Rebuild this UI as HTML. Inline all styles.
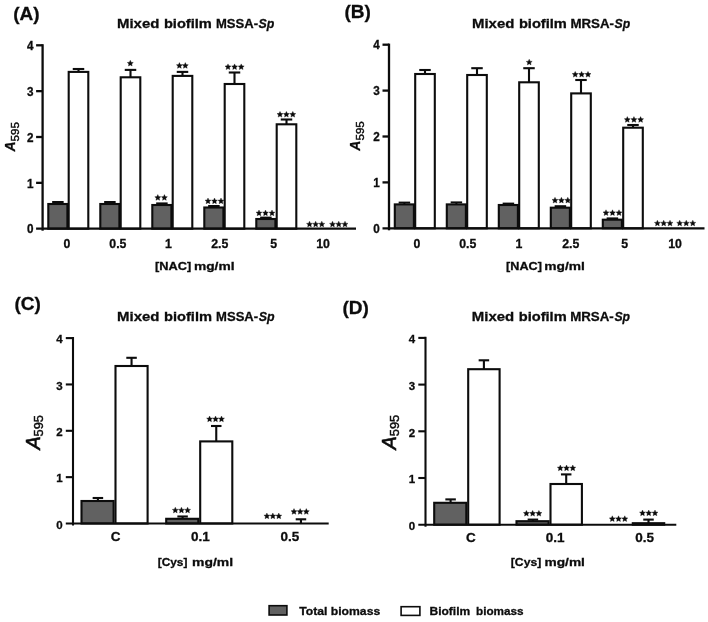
<!DOCTYPE html>
<html><head><meta charset="utf-8"><title>Mixed biofilm figure</title>
<style>html,body{margin:0;padding:0;background:#fff;}svg{display:block;filter:blur(0.35px);}text{font-family:"Liberation Sans",sans-serif;}</style></head>
<body>
<svg width="708" height="622" viewBox="0 0 708 622" font-family="'Liberation Sans', sans-serif" fill="#0c0c0c">
<rect x="0" y="0" width="708" height="622" fill="#ffffff" stroke="none"/>
<text x="13.30" y="20.00" font-size="19" font-weight="bold" font-style="normal" text-anchor="start" stroke="#0c0c0c" stroke-width="0.3">(A)</text>
<text x="117.00" y="28.00" font-size="13.4" font-weight="bold" font-style="normal" text-anchor="start" textLength="42.30" lengthAdjust="spacingAndGlyphs" stroke="#0c0c0c" stroke-width="0.3">Mixed</text>
<text x="163.90" y="28.00" font-size="13.4" font-weight="bold" font-style="normal" text-anchor="start" textLength="48.00" lengthAdjust="spacingAndGlyphs" stroke="#0c0c0c" stroke-width="0.3">biofilm</text>
<text x="216.00" y="28.00" font-size="13.4" font-weight="bold" font-style="normal" text-anchor="start" textLength="42.00" lengthAdjust="spacingAndGlyphs" stroke="#0c0c0c" stroke-width="0.3">MSSA-</text>
<text x="258.60" y="28.00" font-size="13.4" font-weight="bold" font-style="italic" text-anchor="start" textLength="15.80" lengthAdjust="spacingAndGlyphs" stroke="#0c0c0c" stroke-width="0.3">Sp</text>
<line x1="57.90" y1="202.00" x2="57.90" y2="204.00" stroke="#0c0c0c" stroke-width="2.0" stroke-linecap="butt"/>
<line x1="52.15" y1="202.00" x2="63.65" y2="202.00" stroke="#0c0c0c" stroke-width="2.0" stroke-linecap="butt"/>
<rect x="48.30" y="204.00" width="19.10" height="24.70" fill="#616161" stroke="#0c0c0c" stroke-width="2.1"/>
<line x1="78.50" y1="69.00" x2="78.50" y2="71.90" stroke="#0c0c0c" stroke-width="2.1" stroke-linecap="butt"/>
<line x1="72.75" y1="69.00" x2="84.25" y2="69.00" stroke="#0c0c0c" stroke-width="2.1" stroke-linecap="butt"/>
<rect x="68.70" y="71.90" width="19.60" height="156.80" fill="#fff" stroke="#0c0c0c" stroke-width="2.1"/>
<line x1="109.90" y1="202.00" x2="109.90" y2="204.00" stroke="#0c0c0c" stroke-width="2.0" stroke-linecap="butt"/>
<line x1="104.15" y1="202.00" x2="115.65" y2="202.00" stroke="#0c0c0c" stroke-width="2.0" stroke-linecap="butt"/>
<rect x="100.30" y="204.00" width="19.10" height="24.70" fill="#616161" stroke="#0c0c0c" stroke-width="2.1"/>
<line x1="130.50" y1="69.90" x2="130.50" y2="77.30" stroke="#0c0c0c" stroke-width="2.1" stroke-linecap="butt"/>
<line x1="124.75" y1="69.90" x2="136.25" y2="69.90" stroke="#0c0c0c" stroke-width="2.1" stroke-linecap="butt"/>
<rect x="120.70" y="77.30" width="19.60" height="151.40" fill="#fff" stroke="#0c0c0c" stroke-width="2.1"/>
<line x1="161.90" y1="203.40" x2="161.90" y2="205.00" stroke="#0c0c0c" stroke-width="2.0" stroke-linecap="butt"/>
<line x1="156.15" y1="203.40" x2="167.65" y2="203.40" stroke="#0c0c0c" stroke-width="2.0" stroke-linecap="butt"/>
<rect x="152.30" y="205.00" width="19.10" height="23.70" fill="#616161" stroke="#0c0c0c" stroke-width="2.1"/>
<line x1="182.50" y1="71.90" x2="182.50" y2="75.90" stroke="#0c0c0c" stroke-width="2.1" stroke-linecap="butt"/>
<line x1="176.75" y1="71.90" x2="188.25" y2="71.90" stroke="#0c0c0c" stroke-width="2.1" stroke-linecap="butt"/>
<rect x="172.70" y="75.90" width="19.60" height="152.80" fill="#fff" stroke="#0c0c0c" stroke-width="2.1"/>
<line x1="213.90" y1="206.00" x2="213.90" y2="207.50" stroke="#0c0c0c" stroke-width="2.0" stroke-linecap="butt"/>
<line x1="208.15" y1="206.00" x2="219.65" y2="206.00" stroke="#0c0c0c" stroke-width="2.0" stroke-linecap="butt"/>
<rect x="204.30" y="207.50" width="19.10" height="21.20" fill="#616161" stroke="#0c0c0c" stroke-width="2.1"/>
<line x1="234.50" y1="72.50" x2="234.50" y2="84.00" stroke="#0c0c0c" stroke-width="2.1" stroke-linecap="butt"/>
<line x1="228.75" y1="72.50" x2="240.25" y2="72.50" stroke="#0c0c0c" stroke-width="2.1" stroke-linecap="butt"/>
<rect x="224.70" y="84.00" width="19.60" height="144.70" fill="#fff" stroke="#0c0c0c" stroke-width="2.1"/>
<line x1="265.90" y1="217.60" x2="265.90" y2="219.00" stroke="#0c0c0c" stroke-width="2.0" stroke-linecap="butt"/>
<line x1="260.15" y1="217.60" x2="271.65" y2="217.60" stroke="#0c0c0c" stroke-width="2.0" stroke-linecap="butt"/>
<rect x="256.30" y="219.00" width="19.10" height="9.70" fill="#616161" stroke="#0c0c0c" stroke-width="2.1"/>
<line x1="286.50" y1="119.50" x2="286.50" y2="124.30" stroke="#0c0c0c" stroke-width="2.1" stroke-linecap="butt"/>
<line x1="280.75" y1="119.50" x2="292.25" y2="119.50" stroke="#0c0c0c" stroke-width="2.1" stroke-linecap="butt"/>
<rect x="276.70" y="124.30" width="19.60" height="104.40" fill="#fff" stroke="#0c0c0c" stroke-width="2.1"/>
<line x1="42.60" y1="44.20" x2="42.60" y2="230.70" stroke="#0c0c0c" stroke-width="2.3" stroke-linecap="butt"/>
<line x1="36.10" y1="228.70" x2="356.00" y2="228.70" stroke="#0c0c0c" stroke-width="2.3" stroke-linecap="butt"/>
<text transform="translate(33.40 233.39) scale(1 1.12)" font-size="11.7" font-weight="bold" font-style="normal" text-anchor="end" stroke="#0c0c0c" stroke-width="0.3">0</text>
<line x1="36.10" y1="182.85" x2="42.60" y2="182.85" stroke="#0c0c0c" stroke-width="2.3" stroke-linecap="butt"/>
<text transform="translate(33.40 187.54) scale(1 1.12)" font-size="11.7" font-weight="bold" font-style="normal" text-anchor="end" stroke="#0c0c0c" stroke-width="0.3">1</text>
<line x1="36.10" y1="137.00" x2="42.60" y2="137.00" stroke="#0c0c0c" stroke-width="2.3" stroke-linecap="butt"/>
<text transform="translate(33.40 141.69) scale(1 1.12)" font-size="11.7" font-weight="bold" font-style="normal" text-anchor="end" stroke="#0c0c0c" stroke-width="0.3">2</text>
<line x1="36.10" y1="91.15" x2="42.60" y2="91.15" stroke="#0c0c0c" stroke-width="2.3" stroke-linecap="butt"/>
<text transform="translate(33.40 95.84) scale(1 1.12)" font-size="11.7" font-weight="bold" font-style="normal" text-anchor="end" stroke="#0c0c0c" stroke-width="0.3">3</text>
<line x1="36.10" y1="45.30" x2="42.60" y2="45.30" stroke="#0c0c0c" stroke-width="2.3" stroke-linecap="butt"/>
<text transform="translate(33.40 49.99) scale(1 1.12)" font-size="11.7" font-weight="bold" font-style="normal" text-anchor="end" stroke="#0c0c0c" stroke-width="0.3">4</text>
<polygon points="130.30,60.30 131.18,62.24 133.30,62.48 131.73,63.91 132.15,66.00 130.30,64.95 128.45,66.00 128.87,63.91 127.30,62.48 129.42,62.24" fill="#0c0c0c" stroke="#0c0c0c" stroke-width="0.35" stroke-linejoin="round"/>
<polygon points="179.40,62.60 180.28,64.54 182.39,64.78 180.82,66.21 181.25,68.30 179.40,67.25 177.54,68.30 177.97,66.21 176.40,64.78 178.51,64.54" fill="#0c0c0c" stroke="#0c0c0c" stroke-width="0.35" stroke-linejoin="round"/>
<polygon points="185.30,62.60 186.19,64.54 188.30,64.78 186.73,66.21 187.16,68.30 185.30,67.25 183.45,68.30 183.88,66.21 182.31,64.78 184.42,64.54" fill="#0c0c0c" stroke="#0c0c0c" stroke-width="0.35" stroke-linejoin="round"/>
<polygon points="228.00,63.90 228.88,65.84 230.99,66.08 229.42,67.51 229.85,69.60 228.00,68.55 226.14,69.60 226.57,67.51 225.00,66.08 227.11,65.84" fill="#0c0c0c" stroke="#0c0c0c" stroke-width="0.35" stroke-linejoin="round"/>
<polygon points="234.60,63.90 235.48,65.84 237.60,66.08 236.03,67.51 236.45,69.60 234.60,68.55 232.75,69.60 233.17,67.51 231.60,66.08 233.72,65.84" fill="#0c0c0c" stroke="#0c0c0c" stroke-width="0.35" stroke-linejoin="round"/>
<polygon points="241.20,63.90 242.09,65.84 244.20,66.08 242.63,67.51 243.06,69.60 241.20,68.55 239.35,69.60 239.78,67.51 238.21,66.08 240.32,65.84" fill="#0c0c0c" stroke="#0c0c0c" stroke-width="0.35" stroke-linejoin="round"/>
<polygon points="280.00,111.40 280.88,113.34 282.99,113.58 281.42,115.01 281.85,117.10 280.00,116.05 278.14,117.10 278.57,115.01 277.00,113.58 279.11,113.34" fill="#0c0c0c" stroke="#0c0c0c" stroke-width="0.35" stroke-linejoin="round"/>
<polygon points="286.40,111.40 287.28,113.34 289.40,113.58 287.83,115.01 288.25,117.10 286.40,116.05 284.55,117.10 284.97,115.01 283.40,113.58 285.52,113.34" fill="#0c0c0c" stroke="#0c0c0c" stroke-width="0.35" stroke-linejoin="round"/>
<polygon points="292.80,111.40 293.69,113.34 295.80,113.58 294.23,115.01 294.66,117.10 292.80,116.05 290.95,117.10 291.38,115.01 289.81,113.58 291.92,113.34" fill="#0c0c0c" stroke="#0c0c0c" stroke-width="0.35" stroke-linejoin="round"/>
<polygon points="157.80,194.60 158.68,196.54 160.79,196.78 159.22,198.21 159.65,200.30 157.80,199.25 155.94,200.30 156.37,198.21 154.80,196.78 156.91,196.54" fill="#0c0c0c" stroke="#0c0c0c" stroke-width="0.35" stroke-linejoin="round"/>
<polygon points="164.40,194.60 165.29,196.54 167.40,196.78 165.83,198.21 166.26,200.30 164.40,199.25 162.55,200.30 162.98,198.21 161.41,196.78 163.52,196.54" fill="#0c0c0c" stroke="#0c0c0c" stroke-width="0.35" stroke-linejoin="round"/>
<polygon points="208.00,198.00 208.88,199.94 210.99,200.18 209.42,201.61 209.85,203.70 208.00,202.65 206.14,203.70 206.57,201.61 205.00,200.18 207.11,199.94" fill="#0c0c0c" stroke="#0c0c0c" stroke-width="0.35" stroke-linejoin="round"/>
<polygon points="214.50,198.00 215.38,199.94 217.50,200.18 215.93,201.61 216.35,203.70 214.50,202.65 212.65,203.70 213.07,201.61 211.50,200.18 213.62,199.94" fill="#0c0c0c" stroke="#0c0c0c" stroke-width="0.35" stroke-linejoin="round"/>
<polygon points="221.00,198.00 221.89,199.94 224.00,200.18 222.43,201.61 222.86,203.70 221.00,202.65 219.15,203.70 219.58,201.61 218.01,200.18 220.12,199.94" fill="#0c0c0c" stroke="#0c0c0c" stroke-width="0.35" stroke-linejoin="round"/>
<polygon points="259.00,210.00 259.88,211.94 261.99,212.18 260.42,213.61 260.85,215.70 259.00,214.65 257.14,215.70 257.57,213.61 256.00,212.18 258.11,211.94" fill="#0c0c0c" stroke="#0c0c0c" stroke-width="0.35" stroke-linejoin="round"/>
<polygon points="265.50,210.00 266.38,211.94 268.50,212.18 266.93,213.61 267.35,215.70 265.50,214.65 263.65,215.70 264.07,213.61 262.50,212.18 264.62,211.94" fill="#0c0c0c" stroke="#0c0c0c" stroke-width="0.35" stroke-linejoin="round"/>
<polygon points="272.00,210.00 272.89,211.94 275.00,212.18 273.43,213.61 273.86,215.70 272.00,214.65 270.15,215.70 270.58,213.61 269.01,212.18 271.12,211.94" fill="#0c0c0c" stroke="#0c0c0c" stroke-width="0.35" stroke-linejoin="round"/>
<polygon points="309.50,221.20 310.38,223.14 312.49,223.38 310.92,224.81 311.35,226.90 309.50,225.85 307.64,226.90 308.07,224.81 306.50,223.38 308.61,223.14" fill="#0c0c0c" stroke="#0c0c0c" stroke-width="0.35" stroke-linejoin="round"/>
<polygon points="315.65,221.20 316.53,223.14 318.65,223.38 317.08,224.81 317.50,226.90 315.65,225.85 313.80,226.90 314.22,224.81 312.65,223.38 314.77,223.14" fill="#0c0c0c" stroke="#0c0c0c" stroke-width="0.35" stroke-linejoin="round"/>
<polygon points="321.80,221.20 322.69,223.14 324.80,223.38 323.23,224.81 323.66,226.90 321.80,225.85 319.95,226.90 320.38,224.81 318.81,223.38 320.92,223.14" fill="#0c0c0c" stroke="#0c0c0c" stroke-width="0.35" stroke-linejoin="round"/>
<polygon points="332.50,221.20 333.38,223.14 335.49,223.38 333.92,224.81 334.35,226.90 332.50,225.85 330.64,226.90 331.07,224.81 329.50,223.38 331.61,223.14" fill="#0c0c0c" stroke="#0c0c0c" stroke-width="0.35" stroke-linejoin="round"/>
<polygon points="338.75,221.20 339.63,223.14 341.75,223.38 340.18,224.81 340.60,226.90 338.75,225.85 336.90,226.90 337.32,224.81 335.75,223.38 337.87,223.14" fill="#0c0c0c" stroke="#0c0c0c" stroke-width="0.35" stroke-linejoin="round"/>
<polygon points="345.00,221.20 345.89,223.14 348.00,223.38 346.43,224.81 346.86,226.90 345.00,225.85 343.15,226.90 343.58,224.81 342.01,223.38 344.12,223.14" fill="#0c0c0c" stroke="#0c0c0c" stroke-width="0.35" stroke-linejoin="round"/>
<text x="67.00" y="248.00" font-size="12.3" font-weight="bold" font-style="normal" text-anchor="middle" stroke="#0c0c0c" stroke-width="0.3">0</text>
<text x="117.90" y="248.00" font-size="12.3" font-weight="bold" font-style="normal" text-anchor="middle" stroke="#0c0c0c" stroke-width="0.3">0.5</text>
<text x="168.50" y="248.00" font-size="12.3" font-weight="bold" font-style="normal" text-anchor="middle" stroke="#0c0c0c" stroke-width="0.3">1</text>
<text x="219.80" y="248.00" font-size="12.3" font-weight="bold" font-style="normal" text-anchor="middle" stroke="#0c0c0c" stroke-width="0.3">2.5</text>
<text x="273.70" y="248.00" font-size="12.3" font-weight="bold" font-style="normal" text-anchor="middle" stroke="#0c0c0c" stroke-width="0.3">5</text>
<text x="323.00" y="248.00" font-size="12.3" font-weight="bold" font-style="normal" text-anchor="middle" stroke="#0c0c0c" stroke-width="0.3">10</text>
<text x="155.10" y="269.90" font-size="11.6" font-weight="bold" font-style="normal" text-anchor="start" textLength="36.20" lengthAdjust="spacingAndGlyphs" stroke="#0c0c0c" stroke-width="0.3">[NAC]</text>
<text x="193.90" y="269.90" font-size="11.6" font-weight="bold" font-style="normal" text-anchor="start" textLength="40.60" lengthAdjust="spacingAndGlyphs" stroke="#0c0c0c" stroke-width="0.3">mg/ml</text>
<g transform="translate(14.6 151.6) rotate(-90)">
<text x="0.00" y="0.00" font-size="14" font-weight="bold" font-style="italic" text-anchor="start" stroke="#0c0c0c" stroke-width="0.3">A</text>
<text x="10.20" y="4.00" font-size="11.5" font-weight="normal" font-style="normal" text-anchor="start" stroke="#0c0c0c" stroke-width="0.45">595</text>
</g>
<text x="344.40" y="17.80" font-size="19" font-weight="bold" font-style="normal" text-anchor="start" stroke="#0c0c0c" stroke-width="0.3">(B)</text>
<text x="472.00" y="27.90" font-size="13.4" font-weight="bold" font-style="normal" text-anchor="start" textLength="42.30" lengthAdjust="spacingAndGlyphs" stroke="#0c0c0c" stroke-width="0.3">Mixed</text>
<text x="518.90" y="27.90" font-size="13.4" font-weight="bold" font-style="normal" text-anchor="start" textLength="48.00" lengthAdjust="spacingAndGlyphs" stroke="#0c0c0c" stroke-width="0.3">biofilm</text>
<text x="570.40" y="27.90" font-size="13.4" font-weight="bold" font-style="normal" text-anchor="start" textLength="43.60" lengthAdjust="spacingAndGlyphs" stroke="#0c0c0c" stroke-width="0.3">MRSA-</text>
<text x="614.60" y="27.90" font-size="13.4" font-weight="bold" font-style="italic" text-anchor="start" textLength="15.60" lengthAdjust="spacingAndGlyphs" stroke="#0c0c0c" stroke-width="0.3">Sp</text>
<line x1="404.40" y1="202.60" x2="404.40" y2="204.40" stroke="#0c0c0c" stroke-width="2.0" stroke-linecap="butt"/>
<line x1="398.65" y1="202.60" x2="410.15" y2="202.60" stroke="#0c0c0c" stroke-width="2.0" stroke-linecap="butt"/>
<rect x="394.80" y="204.40" width="19.10" height="23.90" fill="#616161" stroke="#0c0c0c" stroke-width="2.1"/>
<line x1="425.00" y1="70.00" x2="425.00" y2="74.00" stroke="#0c0c0c" stroke-width="2.1" stroke-linecap="butt"/>
<line x1="419.25" y1="70.00" x2="430.75" y2="70.00" stroke="#0c0c0c" stroke-width="2.1" stroke-linecap="butt"/>
<rect x="415.20" y="74.00" width="19.60" height="154.30" fill="#fff" stroke="#0c0c0c" stroke-width="2.1"/>
<line x1="456.40" y1="202.40" x2="456.40" y2="204.40" stroke="#0c0c0c" stroke-width="2.0" stroke-linecap="butt"/>
<line x1="450.65" y1="202.40" x2="462.15" y2="202.40" stroke="#0c0c0c" stroke-width="2.0" stroke-linecap="butt"/>
<rect x="446.80" y="204.40" width="19.10" height="23.90" fill="#616161" stroke="#0c0c0c" stroke-width="2.1"/>
<line x1="477.00" y1="68.20" x2="477.00" y2="75.00" stroke="#0c0c0c" stroke-width="2.1" stroke-linecap="butt"/>
<line x1="471.25" y1="68.20" x2="482.75" y2="68.20" stroke="#0c0c0c" stroke-width="2.1" stroke-linecap="butt"/>
<rect x="467.20" y="75.00" width="19.60" height="153.30" fill="#fff" stroke="#0c0c0c" stroke-width="2.1"/>
<line x1="508.40" y1="203.60" x2="508.40" y2="205.00" stroke="#0c0c0c" stroke-width="2.0" stroke-linecap="butt"/>
<line x1="502.65" y1="203.60" x2="514.15" y2="203.60" stroke="#0c0c0c" stroke-width="2.0" stroke-linecap="butt"/>
<rect x="498.80" y="205.00" width="19.10" height="23.30" fill="#616161" stroke="#0c0c0c" stroke-width="2.1"/>
<line x1="529.00" y1="68.20" x2="529.00" y2="82.30" stroke="#0c0c0c" stroke-width="2.1" stroke-linecap="butt"/>
<line x1="523.25" y1="68.20" x2="534.75" y2="68.20" stroke="#0c0c0c" stroke-width="2.1" stroke-linecap="butt"/>
<rect x="519.20" y="82.30" width="19.60" height="146.00" fill="#fff" stroke="#0c0c0c" stroke-width="2.1"/>
<line x1="560.40" y1="206.20" x2="560.40" y2="207.70" stroke="#0c0c0c" stroke-width="2.0" stroke-linecap="butt"/>
<line x1="554.65" y1="206.20" x2="566.15" y2="206.20" stroke="#0c0c0c" stroke-width="2.0" stroke-linecap="butt"/>
<rect x="550.80" y="207.70" width="19.10" height="20.60" fill="#616161" stroke="#0c0c0c" stroke-width="2.1"/>
<line x1="581.00" y1="80.00" x2="581.00" y2="93.40" stroke="#0c0c0c" stroke-width="2.1" stroke-linecap="butt"/>
<line x1="575.25" y1="80.00" x2="586.75" y2="80.00" stroke="#0c0c0c" stroke-width="2.1" stroke-linecap="butt"/>
<rect x="571.20" y="93.40" width="19.60" height="134.90" fill="#fff" stroke="#0c0c0c" stroke-width="2.1"/>
<line x1="612.40" y1="218.40" x2="612.40" y2="219.70" stroke="#0c0c0c" stroke-width="2.0" stroke-linecap="butt"/>
<line x1="606.65" y1="218.40" x2="618.15" y2="218.40" stroke="#0c0c0c" stroke-width="2.0" stroke-linecap="butt"/>
<rect x="602.80" y="219.70" width="19.10" height="8.60" fill="#616161" stroke="#0c0c0c" stroke-width="2.1"/>
<line x1="633.00" y1="125.00" x2="633.00" y2="127.70" stroke="#0c0c0c" stroke-width="2.1" stroke-linecap="butt"/>
<line x1="627.25" y1="125.00" x2="638.75" y2="125.00" stroke="#0c0c0c" stroke-width="2.1" stroke-linecap="butt"/>
<rect x="623.20" y="127.70" width="19.60" height="100.60" fill="#fff" stroke="#0c0c0c" stroke-width="2.1"/>
<line x1="389.00" y1="43.60" x2="389.00" y2="230.30" stroke="#0c0c0c" stroke-width="2.3" stroke-linecap="butt"/>
<line x1="382.50" y1="228.30" x2="704.50" y2="228.30" stroke="#0c0c0c" stroke-width="2.3" stroke-linecap="butt"/>
<text transform="translate(379.80 232.99) scale(1 1.12)" font-size="11.7" font-weight="bold" font-style="normal" text-anchor="end" stroke="#0c0c0c" stroke-width="0.3">0</text>
<line x1="382.50" y1="182.40" x2="389.00" y2="182.40" stroke="#0c0c0c" stroke-width="2.3" stroke-linecap="butt"/>
<text transform="translate(379.80 187.09) scale(1 1.12)" font-size="11.7" font-weight="bold" font-style="normal" text-anchor="end" stroke="#0c0c0c" stroke-width="0.3">1</text>
<line x1="382.50" y1="136.50" x2="389.00" y2="136.50" stroke="#0c0c0c" stroke-width="2.3" stroke-linecap="butt"/>
<text transform="translate(379.80 141.19) scale(1 1.12)" font-size="11.7" font-weight="bold" font-style="normal" text-anchor="end" stroke="#0c0c0c" stroke-width="0.3">2</text>
<line x1="382.50" y1="90.60" x2="389.00" y2="90.60" stroke="#0c0c0c" stroke-width="2.3" stroke-linecap="butt"/>
<text transform="translate(379.80 95.29) scale(1 1.12)" font-size="11.7" font-weight="bold" font-style="normal" text-anchor="end" stroke="#0c0c0c" stroke-width="0.3">3</text>
<line x1="382.50" y1="44.70" x2="389.00" y2="44.70" stroke="#0c0c0c" stroke-width="2.3" stroke-linecap="butt"/>
<text transform="translate(379.80 49.39) scale(1 1.12)" font-size="11.7" font-weight="bold" font-style="normal" text-anchor="end" stroke="#0c0c0c" stroke-width="0.3">4</text>
<polygon points="529.20,59.20 530.08,61.14 532.20,61.38 530.63,62.81 531.05,64.90 529.20,63.85 527.35,64.90 527.77,62.81 526.20,61.38 528.32,61.14" fill="#0c0c0c" stroke="#0c0c0c" stroke-width="0.35" stroke-linejoin="round"/>
<polygon points="575.20,71.40 576.08,73.34 578.19,73.58 576.62,75.01 577.05,77.10 575.20,76.05 573.34,77.10 573.77,75.01 572.20,73.58 574.31,73.34" fill="#0c0c0c" stroke="#0c0c0c" stroke-width="0.35" stroke-linejoin="round"/>
<polygon points="581.60,71.40 582.48,73.34 584.60,73.58 583.03,75.01 583.45,77.10 581.60,76.05 579.75,77.10 580.17,75.01 578.60,73.58 580.72,73.34" fill="#0c0c0c" stroke="#0c0c0c" stroke-width="0.35" stroke-linejoin="round"/>
<polygon points="588.00,71.40 588.89,73.34 591.00,73.58 589.43,75.01 589.86,77.10 588.00,76.05 586.15,77.10 586.58,75.01 585.01,73.58 587.12,73.34" fill="#0c0c0c" stroke="#0c0c0c" stroke-width="0.35" stroke-linejoin="round"/>
<polygon points="627.30,116.60 628.18,118.54 630.29,118.78 628.72,120.21 629.15,122.30 627.30,121.25 625.44,122.30 625.87,120.21 624.30,118.78 626.41,118.54" fill="#0c0c0c" stroke="#0c0c0c" stroke-width="0.35" stroke-linejoin="round"/>
<polygon points="633.95,116.60 634.83,118.54 636.95,118.78 635.38,120.21 635.80,122.30 633.95,121.25 632.10,122.30 632.52,120.21 630.95,118.78 633.07,118.54" fill="#0c0c0c" stroke="#0c0c0c" stroke-width="0.35" stroke-linejoin="round"/>
<polygon points="640.60,116.60 641.49,118.54 643.60,118.78 642.03,120.21 642.46,122.30 640.60,121.25 638.75,122.30 639.18,120.21 637.61,118.78 639.72,118.54" fill="#0c0c0c" stroke="#0c0c0c" stroke-width="0.35" stroke-linejoin="round"/>
<polygon points="555.00,197.30 555.88,199.24 557.99,199.48 556.42,200.91 556.85,203.00 555.00,201.95 553.14,203.00 553.57,200.91 552.00,199.48 554.11,199.24" fill="#0c0c0c" stroke="#0c0c0c" stroke-width="0.35" stroke-linejoin="round"/>
<polygon points="561.40,197.30 562.28,199.24 564.40,199.48 562.83,200.91 563.25,203.00 561.40,201.95 559.55,203.00 559.97,200.91 558.40,199.48 560.52,199.24" fill="#0c0c0c" stroke="#0c0c0c" stroke-width="0.35" stroke-linejoin="round"/>
<polygon points="567.80,197.30 568.69,199.24 570.80,199.48 569.23,200.91 569.66,203.00 567.80,201.95 565.95,203.00 566.38,200.91 564.81,199.48 566.92,199.24" fill="#0c0c0c" stroke="#0c0c0c" stroke-width="0.35" stroke-linejoin="round"/>
<polygon points="606.00,209.80 606.88,211.74 608.99,211.98 607.42,213.41 607.85,215.50 606.00,214.45 604.14,215.50 604.57,213.41 603.00,211.98 605.11,211.74" fill="#0c0c0c" stroke="#0c0c0c" stroke-width="0.35" stroke-linejoin="round"/>
<polygon points="612.50,209.80 613.38,211.74 615.50,211.98 613.93,213.41 614.35,215.50 612.50,214.45 610.65,215.50 611.07,213.41 609.50,211.98 611.62,211.74" fill="#0c0c0c" stroke="#0c0c0c" stroke-width="0.35" stroke-linejoin="round"/>
<polygon points="619.00,209.80 619.89,211.74 622.00,211.98 620.43,213.41 620.86,215.50 619.00,214.45 617.15,215.50 617.58,213.41 616.01,211.98 618.12,211.74" fill="#0c0c0c" stroke="#0c0c0c" stroke-width="0.35" stroke-linejoin="round"/>
<polygon points="657.40,220.20 658.28,222.14 660.39,222.38 658.82,223.81 659.25,225.90 657.40,224.85 655.54,225.90 655.97,223.81 654.40,222.38 656.51,222.14" fill="#0c0c0c" stroke="#0c0c0c" stroke-width="0.35" stroke-linejoin="round"/>
<polygon points="663.70,220.20 664.58,222.14 666.70,222.38 665.13,223.81 665.55,225.90 663.70,224.85 661.85,225.90 662.27,223.81 660.70,222.38 662.82,222.14" fill="#0c0c0c" stroke="#0c0c0c" stroke-width="0.35" stroke-linejoin="round"/>
<polygon points="670.00,220.20 670.89,222.14 673.00,222.38 671.43,223.81 671.86,225.90 670.00,224.85 668.15,225.90 668.58,223.81 667.01,222.38 669.12,222.14" fill="#0c0c0c" stroke="#0c0c0c" stroke-width="0.35" stroke-linejoin="round"/>
<polygon points="679.70,220.20 680.58,222.14 682.69,222.38 681.12,223.81 681.55,225.90 679.70,224.85 677.84,225.90 678.27,223.81 676.70,222.38 678.81,222.14" fill="#0c0c0c" stroke="#0c0c0c" stroke-width="0.35" stroke-linejoin="round"/>
<polygon points="686.25,220.20 687.13,222.14 689.25,222.38 687.68,223.81 688.10,225.90 686.25,224.85 684.40,225.90 684.82,223.81 683.25,222.38 685.37,222.14" fill="#0c0c0c" stroke="#0c0c0c" stroke-width="0.35" stroke-linejoin="round"/>
<polygon points="692.80,220.20 693.69,222.14 695.80,222.38 694.23,223.81 694.66,225.90 692.80,224.85 690.95,225.90 691.38,223.81 689.81,222.38 691.92,222.14" fill="#0c0c0c" stroke="#0c0c0c" stroke-width="0.35" stroke-linejoin="round"/>
<text x="416.90" y="247.90" font-size="12.3" font-weight="bold" font-style="normal" text-anchor="middle" stroke="#0c0c0c" stroke-width="0.3">0</text>
<text x="467.70" y="247.90" font-size="12.3" font-weight="bold" font-style="normal" text-anchor="middle" stroke="#0c0c0c" stroke-width="0.3">0.5</text>
<text x="519.00" y="247.90" font-size="12.3" font-weight="bold" font-style="normal" text-anchor="middle" stroke="#0c0c0c" stroke-width="0.3">1</text>
<text x="570.70" y="247.90" font-size="12.3" font-weight="bold" font-style="normal" text-anchor="middle" stroke="#0c0c0c" stroke-width="0.3">2.5</text>
<text x="624.60" y="247.90" font-size="12.3" font-weight="bold" font-style="normal" text-anchor="middle" stroke="#0c0c0c" stroke-width="0.3">5</text>
<text x="675.00" y="247.90" font-size="12.3" font-weight="bold" font-style="normal" text-anchor="middle" stroke="#0c0c0c" stroke-width="0.3">10</text>
<text x="506.10" y="269.90" font-size="11.6" font-weight="bold" font-style="normal" text-anchor="start" textLength="35.80" lengthAdjust="spacingAndGlyphs" stroke="#0c0c0c" stroke-width="0.3">[NAC]</text>
<text x="544.30" y="269.90" font-size="11.6" font-weight="bold" font-style="normal" text-anchor="start" textLength="40.60" lengthAdjust="spacingAndGlyphs" stroke="#0c0c0c" stroke-width="0.3">mg/ml</text>
<g transform="translate(360.4 150.7) rotate(-90)">
<text x="0.00" y="0.00" font-size="14" font-weight="bold" font-style="italic" text-anchor="start" stroke="#0c0c0c" stroke-width="0.3">A</text>
<text x="10.20" y="4.00" font-size="11.5" font-weight="normal" font-style="normal" text-anchor="start" stroke="#0c0c0c" stroke-width="0.45">595</text>
</g>
<text x="14.40" y="309.60" font-size="19" font-weight="bold" font-style="normal" text-anchor="start" stroke="#0c0c0c" stroke-width="0.3">(C)</text>
<text x="117.10" y="321.00" font-size="13.4" font-weight="bold" font-style="normal" text-anchor="start" textLength="42.30" lengthAdjust="spacingAndGlyphs" stroke="#0c0c0c" stroke-width="0.3">Mixed</text>
<text x="164.00" y="321.00" font-size="13.4" font-weight="bold" font-style="normal" text-anchor="start" textLength="48.00" lengthAdjust="spacingAndGlyphs" stroke="#0c0c0c" stroke-width="0.3">biofilm</text>
<text x="216.10" y="321.00" font-size="13.4" font-weight="bold" font-style="normal" text-anchor="start" textLength="42.00" lengthAdjust="spacingAndGlyphs" stroke="#0c0c0c" stroke-width="0.3">MSSA-</text>
<text x="258.70" y="321.00" font-size="13.4" font-weight="bold" font-style="italic" text-anchor="start" textLength="15.80" lengthAdjust="spacingAndGlyphs" stroke="#0c0c0c" stroke-width="0.3">Sp</text>
<line x1="97.90" y1="498.00" x2="97.90" y2="501.00" stroke="#0c0c0c" stroke-width="2.1" stroke-linecap="butt"/>
<line x1="92.65" y1="498.00" x2="103.15" y2="498.00" stroke="#0c0c0c" stroke-width="2.1" stroke-linecap="butt"/>
<rect x="81.50" y="501.00" width="32.10" height="22.50" fill="#616161" stroke="#0c0c0c" stroke-width="2.1"/>
<line x1="131.55" y1="357.80" x2="131.55" y2="366.00" stroke="#0c0c0c" stroke-width="2.1" stroke-linecap="butt"/>
<line x1="126.30" y1="357.80" x2="136.80" y2="357.80" stroke="#0c0c0c" stroke-width="2.1" stroke-linecap="butt"/>
<rect x="115.50" y="366.00" width="32.10" height="157.50" fill="#fff" stroke="#0c0c0c" stroke-width="2.1"/>
<line x1="182.60" y1="516.50" x2="182.60" y2="518.80" stroke="#0c0c0c" stroke-width="2.1" stroke-linecap="butt"/>
<line x1="177.35" y1="516.50" x2="187.85" y2="516.50" stroke="#0c0c0c" stroke-width="2.1" stroke-linecap="butt"/>
<rect x="166.20" y="518.80" width="32.10" height="4.70" fill="#616161" stroke="#0c0c0c" stroke-width="2.1"/>
<line x1="216.25" y1="426.00" x2="216.25" y2="441.40" stroke="#0c0c0c" stroke-width="2.1" stroke-linecap="butt"/>
<line x1="211.00" y1="426.00" x2="221.50" y2="426.00" stroke="#0c0c0c" stroke-width="2.1" stroke-linecap="butt"/>
<rect x="200.20" y="441.40" width="32.10" height="82.10" fill="#fff" stroke="#0c0c0c" stroke-width="2.1"/>
<line x1="300.95" y1="519.30" x2="300.95" y2="523.50" stroke="#0c0c0c" stroke-width="2.1" stroke-linecap="butt"/>
<line x1="295.70" y1="519.30" x2="306.20" y2="519.30" stroke="#0c0c0c" stroke-width="2.1" stroke-linecap="butt"/>
<line x1="73.00" y1="337.00" x2="73.00" y2="525.50" stroke="#0c0c0c" stroke-width="2.1" stroke-linecap="butt"/>
<line x1="65.80" y1="523.50" x2="328.70" y2="523.50" stroke="#0c0c0c" stroke-width="2.1" stroke-linecap="butt"/>
<text transform="translate(62.60 528.72) scale(1 1.0)" font-size="11.5" font-weight="bold" font-style="normal" text-anchor="end" stroke="#0c0c0c" stroke-width="0.3">0</text>
<line x1="65.80" y1="477.15" x2="73.00" y2="477.15" stroke="#0c0c0c" stroke-width="2.1" stroke-linecap="butt"/>
<text transform="translate(62.60 482.37) scale(1 1.0)" font-size="11.5" font-weight="bold" font-style="normal" text-anchor="end" stroke="#0c0c0c" stroke-width="0.3">1</text>
<line x1="65.80" y1="430.80" x2="73.00" y2="430.80" stroke="#0c0c0c" stroke-width="2.1" stroke-linecap="butt"/>
<text transform="translate(62.60 436.02) scale(1 1.0)" font-size="11.5" font-weight="bold" font-style="normal" text-anchor="end" stroke="#0c0c0c" stroke-width="0.3">2</text>
<line x1="65.80" y1="384.45" x2="73.00" y2="384.45" stroke="#0c0c0c" stroke-width="2.1" stroke-linecap="butt"/>
<text transform="translate(62.60 389.67) scale(1 1.0)" font-size="11.5" font-weight="bold" font-style="normal" text-anchor="end" stroke="#0c0c0c" stroke-width="0.3">3</text>
<line x1="65.80" y1="338.10" x2="73.00" y2="338.10" stroke="#0c0c0c" stroke-width="2.1" stroke-linecap="butt"/>
<text transform="translate(62.60 343.32) scale(1 1.0)" font-size="11.5" font-weight="bold" font-style="normal" text-anchor="end" stroke="#0c0c0c" stroke-width="0.3">4</text>
<polygon points="209.60,416.00 210.48,417.94 212.59,418.18 211.02,419.61 211.45,421.70 209.60,420.65 207.74,421.70 208.17,419.61 206.60,418.18 208.71,417.94" fill="#0c0c0c" stroke="#0c0c0c" stroke-width="0.35" stroke-linejoin="round"/>
<polygon points="215.55,416.00 216.43,417.94 218.55,418.18 216.98,419.61 217.40,421.70 215.55,420.65 213.70,421.70 214.12,419.61 212.55,418.18 214.67,417.94" fill="#0c0c0c" stroke="#0c0c0c" stroke-width="0.35" stroke-linejoin="round"/>
<polygon points="221.50,416.00 222.39,417.94 224.50,418.18 222.93,419.61 223.36,421.70 221.50,420.65 219.65,421.70 220.08,419.61 218.51,418.18 220.62,417.94" fill="#0c0c0c" stroke="#0c0c0c" stroke-width="0.35" stroke-linejoin="round"/>
<polygon points="175.30,507.20 176.18,509.14 178.29,509.38 176.72,510.81 177.15,512.90 175.30,511.85 173.44,512.90 173.87,510.81 172.30,509.38 174.41,509.14" fill="#0c0c0c" stroke="#0c0c0c" stroke-width="0.35" stroke-linejoin="round"/>
<polygon points="181.45,507.20 182.33,509.14 184.45,509.38 182.88,510.81 183.30,512.90 181.45,511.85 179.60,512.90 180.02,510.81 178.45,509.38 180.57,509.14" fill="#0c0c0c" stroke="#0c0c0c" stroke-width="0.35" stroke-linejoin="round"/>
<polygon points="187.60,507.20 188.49,509.14 190.60,509.38 189.03,510.81 189.46,512.90 187.60,511.85 185.75,512.90 186.18,510.81 184.61,509.38 186.72,509.14" fill="#0c0c0c" stroke="#0c0c0c" stroke-width="0.35" stroke-linejoin="round"/>
<polygon points="266.90,513.00 267.78,514.94 269.89,515.18 268.32,516.61 268.75,518.70 266.90,517.65 265.04,518.70 265.47,516.61 263.90,515.18 266.01,514.94" fill="#0c0c0c" stroke="#0c0c0c" stroke-width="0.35" stroke-linejoin="round"/>
<polygon points="272.85,513.00 273.73,514.94 275.85,515.18 274.28,516.61 274.70,518.70 272.85,517.65 271.00,518.70 271.42,516.61 269.85,515.18 271.97,514.94" fill="#0c0c0c" stroke="#0c0c0c" stroke-width="0.35" stroke-linejoin="round"/>
<polygon points="278.80,513.00 279.69,514.94 281.80,515.18 280.23,516.61 280.66,518.70 278.80,517.65 276.95,518.70 277.38,516.61 275.81,515.18 277.92,514.94" fill="#0c0c0c" stroke="#0c0c0c" stroke-width="0.35" stroke-linejoin="round"/>
<polygon points="294.00,508.60 294.88,510.54 296.99,510.78 295.42,512.21 295.85,514.30 294.00,513.25 292.14,514.30 292.57,512.21 291.00,510.78 293.11,510.54" fill="#0c0c0c" stroke="#0c0c0c" stroke-width="0.35" stroke-linejoin="round"/>
<polygon points="300.15,508.60 301.03,510.54 303.15,510.78 301.58,512.21 302.00,514.30 300.15,513.25 298.30,514.30 298.72,512.21 297.15,510.78 299.27,510.54" fill="#0c0c0c" stroke="#0c0c0c" stroke-width="0.35" stroke-linejoin="round"/>
<polygon points="306.30,508.60 307.19,510.54 309.30,510.78 307.73,512.21 308.16,514.30 306.30,513.25 304.45,514.30 304.88,512.21 303.31,510.78 305.42,510.54" fill="#0c0c0c" stroke="#0c0c0c" stroke-width="0.35" stroke-linejoin="round"/>
<text x="115.70" y="540.70" font-size="13.5" font-weight="bold" font-style="normal" text-anchor="middle" stroke="#0c0c0c" stroke-width="0.3">C</text>
<text x="200.50" y="540.70" font-size="13.5" font-weight="bold" font-style="normal" text-anchor="middle" stroke="#0c0c0c" stroke-width="0.3">0.1</text>
<text x="289.80" y="540.70" font-size="13.5" font-weight="bold" font-style="normal" text-anchor="middle" stroke="#0c0c0c" stroke-width="0.3">0.5</text>
<text x="157.70" y="565.70" font-size="11.6" font-weight="bold" font-style="normal" text-anchor="start" textLength="29.70" lengthAdjust="spacingAndGlyphs" stroke="#0c0c0c" stroke-width="0.3">[Cys]</text>
<text x="192.10" y="565.70" font-size="11.6" font-weight="bold" font-style="normal" text-anchor="start" textLength="41.00" lengthAdjust="spacingAndGlyphs" stroke="#0c0c0c" stroke-width="0.3">mg/ml</text>
<g transform="translate(39.7 449.6) rotate(-90)">
<text x="0.00" y="0.00" font-size="20" font-weight="normal" font-style="italic" text-anchor="start" stroke="#0c0c0c" stroke-width="0.55">A</text>
<text x="13.20" y="3.40" font-size="12.8" font-weight="normal" font-style="normal" text-anchor="start" stroke="#0c0c0c" stroke-width="0.45">595</text>
</g>
<text x="342.40" y="313.60" font-size="19" font-weight="bold" font-style="normal" text-anchor="start" stroke="#0c0c0c" stroke-width="0.3">(D)</text>
<text x="471.80" y="320.60" font-size="13.4" font-weight="bold" font-style="normal" text-anchor="start" textLength="42.30" lengthAdjust="spacingAndGlyphs" stroke="#0c0c0c" stroke-width="0.3">Mixed</text>
<text x="518.70" y="320.60" font-size="13.4" font-weight="bold" font-style="normal" text-anchor="start" textLength="48.00" lengthAdjust="spacingAndGlyphs" stroke="#0c0c0c" stroke-width="0.3">biofilm</text>
<text x="570.20" y="320.60" font-size="13.4" font-weight="bold" font-style="normal" text-anchor="start" textLength="43.60" lengthAdjust="spacingAndGlyphs" stroke="#0c0c0c" stroke-width="0.3">MRSA-</text>
<text x="614.40" y="320.60" font-size="13.4" font-weight="bold" font-style="italic" text-anchor="start" textLength="15.60" lengthAdjust="spacingAndGlyphs" stroke="#0c0c0c" stroke-width="0.3">Sp</text>
<line x1="450.60" y1="499.40" x2="450.60" y2="502.80" stroke="#0c0c0c" stroke-width="2.1" stroke-linecap="butt"/>
<line x1="445.35" y1="499.40" x2="455.85" y2="499.40" stroke="#0c0c0c" stroke-width="2.1" stroke-linecap="butt"/>
<rect x="434.20" y="502.80" width="32.10" height="21.90" fill="#616161" stroke="#0c0c0c" stroke-width="2.1"/>
<line x1="483.90" y1="360.30" x2="483.90" y2="369.20" stroke="#0c0c0c" stroke-width="2.1" stroke-linecap="butt"/>
<line x1="478.65" y1="360.30" x2="489.15" y2="360.30" stroke="#0c0c0c" stroke-width="2.1" stroke-linecap="butt"/>
<rect x="468.20" y="369.20" width="31.40" height="155.50" fill="#fff" stroke="#0c0c0c" stroke-width="2.1"/>
<line x1="532.90" y1="519.60" x2="532.90" y2="521.20" stroke="#0c0c0c" stroke-width="2.1" stroke-linecap="butt"/>
<line x1="527.65" y1="519.60" x2="538.15" y2="519.60" stroke="#0c0c0c" stroke-width="2.1" stroke-linecap="butt"/>
<rect x="516.50" y="521.20" width="32.10" height="3.50" fill="#616161" stroke="#0c0c0c" stroke-width="2.1"/>
<line x1="566.20" y1="474.40" x2="566.20" y2="484.00" stroke="#0c0c0c" stroke-width="2.1" stroke-linecap="butt"/>
<line x1="560.95" y1="474.40" x2="571.45" y2="474.40" stroke="#0c0c0c" stroke-width="2.1" stroke-linecap="butt"/>
<rect x="550.50" y="484.00" width="31.40" height="40.70" fill="#fff" stroke="#0c0c0c" stroke-width="2.1"/>
<line x1="648.50" y1="519.60" x2="648.50" y2="523.20" stroke="#0c0c0c" stroke-width="2.1" stroke-linecap="butt"/>
<line x1="643.25" y1="519.60" x2="653.75" y2="519.60" stroke="#0c0c0c" stroke-width="2.1" stroke-linecap="butt"/>
<rect x="632.80" y="523.20" width="31.40" height="1.50" fill="#fff" stroke="#0c0c0c" stroke-width="2.1"/>
<line x1="425.50" y1="336.80" x2="425.50" y2="526.70" stroke="#0c0c0c" stroke-width="2.1" stroke-linecap="butt"/>
<line x1="418.30" y1="524.70" x2="676.30" y2="524.70" stroke="#0c0c0c" stroke-width="2.1" stroke-linecap="butt"/>
<text transform="translate(415.10 529.92) scale(1 1.0)" font-size="11.5" font-weight="bold" font-style="normal" text-anchor="end" stroke="#0c0c0c" stroke-width="0.3">0</text>
<line x1="418.30" y1="478.00" x2="425.50" y2="478.00" stroke="#0c0c0c" stroke-width="2.1" stroke-linecap="butt"/>
<text transform="translate(415.10 483.22) scale(1 1.0)" font-size="11.5" font-weight="bold" font-style="normal" text-anchor="end" stroke="#0c0c0c" stroke-width="0.3">1</text>
<line x1="418.30" y1="431.30" x2="425.50" y2="431.30" stroke="#0c0c0c" stroke-width="2.1" stroke-linecap="butt"/>
<text transform="translate(415.10 436.52) scale(1 1.0)" font-size="11.5" font-weight="bold" font-style="normal" text-anchor="end" stroke="#0c0c0c" stroke-width="0.3">2</text>
<line x1="418.30" y1="384.60" x2="425.50" y2="384.60" stroke="#0c0c0c" stroke-width="2.1" stroke-linecap="butt"/>
<text transform="translate(415.10 389.82) scale(1 1.0)" font-size="11.5" font-weight="bold" font-style="normal" text-anchor="end" stroke="#0c0c0c" stroke-width="0.3">3</text>
<line x1="418.30" y1="337.90" x2="425.50" y2="337.90" stroke="#0c0c0c" stroke-width="2.1" stroke-linecap="butt"/>
<text transform="translate(415.10 343.12) scale(1 1.0)" font-size="11.5" font-weight="bold" font-style="normal" text-anchor="end" stroke="#0c0c0c" stroke-width="0.3">4</text>
<polygon points="560.30,465.00 561.18,466.94 563.29,467.18 561.72,468.61 562.15,470.70 560.30,469.65 558.44,470.70 558.87,468.61 557.30,467.18 559.41,466.94" fill="#0c0c0c" stroke="#0c0c0c" stroke-width="0.35" stroke-linejoin="round"/>
<polygon points="566.55,465.00 567.43,466.94 569.55,467.18 567.98,468.61 568.40,470.70 566.55,469.65 564.70,470.70 565.12,468.61 563.55,467.18 565.67,466.94" fill="#0c0c0c" stroke="#0c0c0c" stroke-width="0.35" stroke-linejoin="round"/>
<polygon points="572.80,465.00 573.69,466.94 575.80,467.18 574.23,468.61 574.66,470.70 572.80,469.65 570.95,470.70 571.38,468.61 569.81,467.18 571.92,466.94" fill="#0c0c0c" stroke="#0c0c0c" stroke-width="0.35" stroke-linejoin="round"/>
<polygon points="526.40,510.40 527.28,512.34 529.39,512.58 527.82,514.01 528.25,516.10 526.40,515.05 524.54,516.10 524.97,514.01 523.40,512.58 525.51,512.34" fill="#0c0c0c" stroke="#0c0c0c" stroke-width="0.35" stroke-linejoin="round"/>
<polygon points="532.65,510.40 533.53,512.34 535.65,512.58 534.08,514.01 534.50,516.10 532.65,515.05 530.80,516.10 531.22,514.01 529.65,512.58 531.77,512.34" fill="#0c0c0c" stroke="#0c0c0c" stroke-width="0.35" stroke-linejoin="round"/>
<polygon points="538.90,510.40 539.79,512.34 541.90,512.58 540.33,514.01 540.76,516.10 538.90,515.05 537.05,516.10 537.48,514.01 535.91,512.58 538.02,512.34" fill="#0c0c0c" stroke="#0c0c0c" stroke-width="0.35" stroke-linejoin="round"/>
<polygon points="612.30,515.80 613.18,517.74 615.29,517.98 613.72,519.41 614.15,521.50 612.30,520.45 610.44,521.50 610.87,519.41 609.30,517.98 611.41,517.74" fill="#0c0c0c" stroke="#0c0c0c" stroke-width="0.35" stroke-linejoin="round"/>
<polygon points="618.55,515.80 619.43,517.74 621.55,517.98 619.98,519.41 620.40,521.50 618.55,520.45 616.70,521.50 617.12,519.41 615.55,517.98 617.67,517.74" fill="#0c0c0c" stroke="#0c0c0c" stroke-width="0.35" stroke-linejoin="round"/>
<polygon points="624.80,515.80 625.69,517.74 627.80,517.98 626.23,519.41 626.66,521.50 624.80,520.45 622.95,521.50 623.38,519.41 621.81,517.98 623.92,517.74" fill="#0c0c0c" stroke="#0c0c0c" stroke-width="0.35" stroke-linejoin="round"/>
<polygon points="642.50,510.00 643.38,511.94 645.49,512.18 643.92,513.61 644.35,515.70 642.50,514.65 640.64,515.70 641.07,513.61 639.50,512.18 641.61,511.94" fill="#0c0c0c" stroke="#0c0c0c" stroke-width="0.35" stroke-linejoin="round"/>
<polygon points="648.75,510.00 649.63,511.94 651.75,512.18 650.18,513.61 650.60,515.70 648.75,514.65 646.90,515.70 647.32,513.61 645.75,512.18 647.87,511.94" fill="#0c0c0c" stroke="#0c0c0c" stroke-width="0.35" stroke-linejoin="round"/>
<polygon points="655.00,510.00 655.89,511.94 658.00,512.18 656.43,513.61 656.86,515.70 655.00,514.65 653.15,515.70 653.58,513.61 652.01,512.18 654.12,511.94" fill="#0c0c0c" stroke="#0c0c0c" stroke-width="0.35" stroke-linejoin="round"/>
<text x="470.80" y="541.70" font-size="13.5" font-weight="bold" font-style="normal" text-anchor="middle" stroke="#0c0c0c" stroke-width="0.3">C</text>
<text x="555.20" y="541.70" font-size="13.5" font-weight="bold" font-style="normal" text-anchor="middle" stroke="#0c0c0c" stroke-width="0.3">0.1</text>
<text x="644.70" y="541.70" font-size="13.5" font-weight="bold" font-style="normal" text-anchor="middle" stroke="#0c0c0c" stroke-width="0.3">0.5</text>
<text x="510.80" y="565.60" font-size="11.6" font-weight="bold" font-style="normal" text-anchor="start" textLength="30.50" lengthAdjust="spacingAndGlyphs" stroke="#0c0c0c" stroke-width="0.3">[Cys]</text>
<text x="544.50" y="565.60" font-size="11.6" font-weight="bold" font-style="normal" text-anchor="start" textLength="40.40" lengthAdjust="spacingAndGlyphs" stroke="#0c0c0c" stroke-width="0.3">mg/ml</text>
<g transform="translate(395.9 449.4) rotate(-90)">
<text x="0.00" y="0.00" font-size="20" font-weight="normal" font-style="italic" text-anchor="start" stroke="#0c0c0c" stroke-width="0.55">A</text>
<text x="13.20" y="3.40" font-size="12.8" font-weight="normal" font-style="normal" text-anchor="start" stroke="#0c0c0c" stroke-width="0.45">595</text>
</g>
<rect x="269.10" y="605.70" width="17.80" height="9.30" fill="#616161" stroke="#0c0c0c" stroke-width="1.6"/>
<text x="299.20" y="615.30" font-size="11.4" font-weight="bold" font-style="normal" text-anchor="start" textLength="81.00" lengthAdjust="spacingAndGlyphs" stroke="#0c0c0c" stroke-width="0.3">Total biomass</text>
<rect x="401.10" y="606.70" width="18.80" height="8.70" fill="#fff" stroke="#0c0c0c" stroke-width="1.6"/>
<text x="429.50" y="614.60" font-size="11.4" font-weight="bold" font-style="normal" text-anchor="start" textLength="40.70" lengthAdjust="spacingAndGlyphs" stroke="#0c0c0c" stroke-width="0.3">Biofilm</text>
<text x="476.00" y="614.60" font-size="11.4" font-weight="bold" font-style="normal" text-anchor="start" textLength="47.60" lengthAdjust="spacingAndGlyphs" stroke="#0c0c0c" stroke-width="0.3">biomass</text>
</svg>
</body></html>
